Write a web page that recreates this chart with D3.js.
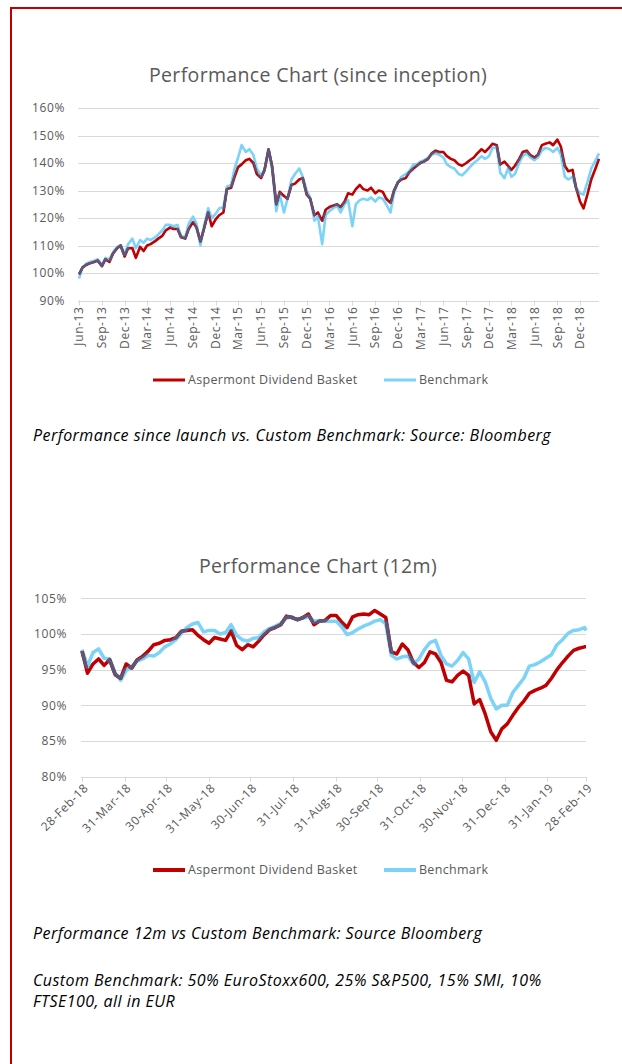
<!DOCTYPE html>
<meta charset="utf-8">
<style>
    body {
        margin: 0;
        background: #fff;
    }

    text {
        font-family: "Open Sans", Lato, sans-serif;
    }

    .axis-label {
        fill: #595959;
        font-size: 12px;
        letter-spacing: 0.6px;
    }

    .title {
        fill: #595959;
        font-size: 19.5px;
        letter-spacing: 0.35px;
    }

    .legend {
        fill: #595959;
        font-size: 12.5px;
        letter-spacing: 0.3px;
    }

    .caption {
        fill: #000;
        font-size: 16px;
        font-style: italic;
        letter-spacing: 0.45px;
    }
</style>

<body>
    <script src="https://d3js.org/d3.v7.min.js"></script>

    <svg width="622" height="1064"></svg>
    <script>
        // ---- since inception (half-monthly readings) ----
        var topDates = [
            "2013-06-01", "2013-06-15", "2013-07-01", "2013-07-15", "2013-08-01", "2013-08-15", "2013-09-01", "2013-09-15", "2013-10-01", "2013-10-15", "2013-11-01", "2013-11-15", "2013-12-01", "2013-12-15",
            "2014-01-01", "2014-01-15", "2014-02-01", "2014-02-15", "2014-03-01", "2014-03-15", "2014-04-01", "2014-04-15", "2014-05-01", "2014-05-15", "2014-06-01", "2014-06-15", "2014-07-01", "2014-07-15", "2014-08-01", "2014-08-15", "2014-09-01", "2014-09-15", "2014-10-01", "2014-10-15", "2014-11-01", "2014-11-15", "2014-12-01", "2014-12-15",
            "2015-01-01", "2015-01-15", "2015-02-01", "2015-02-15", "2015-03-01", "2015-03-15", "2015-04-01", "2015-04-15", "2015-05-01", "2015-05-15", "2015-06-01", "2015-06-15", "2015-07-01", "2015-07-15", "2015-08-01", "2015-08-15", "2015-09-01", "2015-09-15", "2015-10-01", "2015-10-15", "2015-11-01", "2015-11-15", "2015-12-01", "2015-12-15",
            "2016-01-01", "2016-01-15", "2016-02-01", "2016-02-15", "2016-03-01", "2016-03-15", "2016-04-01", "2016-04-15", "2016-05-01", "2016-05-15", "2016-06-01", "2016-06-15", "2016-07-01", "2016-07-15", "2016-08-01", "2016-08-15", "2016-09-01", "2016-09-15", "2016-10-01", "2016-10-15", "2016-11-01", "2016-11-15", "2016-12-01", "2016-12-15",
            "2017-01-01", "2017-01-15", "2017-02-01", "2017-02-15", "2017-03-01", "2017-03-15", "2017-04-01", "2017-04-15", "2017-05-01", "2017-05-15", "2017-06-01", "2017-06-15", "2017-07-01", "2017-07-15", "2017-08-01", "2017-08-15", "2017-09-01", "2017-09-15", "2017-10-01", "2017-10-15", "2017-11-01", "2017-11-15", "2017-12-01", "2017-12-15",
            "2018-01-01", "2018-01-15", "2018-02-01", "2018-02-15", "2018-03-01", "2018-03-15", "2018-04-01", "2018-04-15", "2018-05-01", "2018-05-15", "2018-06-01", "2018-06-15", "2018-07-01", "2018-07-15", "2018-08-01", "2018-08-15", "2018-09-01", "2018-09-15", "2018-10-01", "2018-10-15", "2018-11-01", "2018-11-15", "2018-12-01", "2018-12-15",
            "2019-01-01", "2019-01-15", "2019-02-01", "2019-02-15"
        ];

        var fundTop = [
            99.5, 102, 103, 103.5, 104, 104.5, 102.5, 105, 104, 107, 109, 110, 106, 109,
            109, 105.5, 109.5, 108, 110, 110.5, 111.5, 112.5, 113.5, 115.5, 116.5, 116, 116, 113, 112.5, 116, 118.5, 116.5, 111.5, 116, 122, 117, 119.5, 121,
            122, 130.5, 131, 135, 138.5, 139.5, 141, 141.5, 140, 136, 134.5, 137.5, 145, 139, 125, 129.5, 128, 127, 132, 132.5, 134, 134.5, 128.5, 127,
            121, 122, 119, 123, 124, 124.5, 125, 124, 126, 129, 128.5, 130.5, 132, 130.5, 130, 131, 129, 130, 129.5, 127, 125.5, 130, 133, 134,
            134.5, 136.5, 138, 139, 140, 140.5, 141.5, 143.5, 144.5, 144, 144, 142.5, 141.5, 141, 139.5, 139, 140, 141, 142, 143.5, 145, 144, 145.5, 147,
            146.5, 139.5, 140.5, 139, 137.5, 139, 141.5, 144, 144.5, 143, 142, 143, 146.5, 147, 147.5, 146.5, 148.5, 146, 139, 137, 137.5, 131, 126, 123.5,
            129, 134, 138, 141.5
        ];

        var benchTop = [
            98, 102, 103.5, 104, 104.5, 105, 103, 105.5, 105, 107.5, 109.5, 110, 107, 110.5,
            112.5, 109, 112, 111, 112.5, 112, 113, 114, 115.5, 117.5, 117.5, 117, 117.5, 113.5, 113, 118, 120.5, 118, 110, 117, 123.5, 120, 121.5, 123.5,
            124, 131.5, 132, 138, 142, 146.5, 144, 145, 143, 138, 135.5, 137.5, 144.5, 138, 122.5, 128.5, 122, 127, 134, 136, 138, 135, 130, 127.5,
            119, 120.5, 110.5, 121, 122.5, 123.5, 124.5, 122, 125, 126.5, 117, 125, 126.5, 127, 126.5, 127.5, 126, 127.5, 127, 125, 122, 129, 133, 135,
            136, 137, 139.5, 139.5, 140.5, 141, 142, 143, 143.5, 143, 142, 139.5, 138.5, 138, 136, 135.5, 137, 138.5, 140, 141, 142.5, 141.5, 142.5, 145.5,
            145.5, 136.5, 134.5, 138, 135, 136, 140, 142.5, 143.5, 142, 141, 142, 144.5, 145.5, 145, 144, 145.5, 143, 135, 134, 135, 131, 129, 128.5,
            133.5, 138, 141, 143.5
        ];

        var topTicks = ["Jun-13", "Sep-13", "Dec-13", "Mar-14", "Jun-14", "Sep-14", "Dec-14", "Mar-15", "Jun-15", "Sep-15", "Dec-15", "Mar-16",
            "Jun-16", "Sep-16", "Dec-16", "Mar-17", "Jun-17", "Sep-17", "Dec-17", "Mar-18", "Jun-18", "Sep-18", "Dec-18"];
        var topYTicks = [90, 100, 110, 120, 130, 140, 150, 160];

        // ---- 12 months (4-day readings) ----
        var dates12 = [
            "2018-02-28", "2018-03-04", "2018-03-08", "2018-03-12", "2018-03-16", "2018-03-20", "2018-03-24", "2018-03-28",
            "2018-04-01", "2018-04-05", "2018-04-09", "2018-04-13", "2018-04-17", "2018-04-21", "2018-04-25", "2018-04-29",
            "2018-05-03", "2018-05-07", "2018-05-11", "2018-05-15", "2018-05-19", "2018-05-23", "2018-05-27", "2018-05-31",
            "2018-06-04", "2018-06-08", "2018-06-12", "2018-06-16", "2018-06-20", "2018-06-24", "2018-06-28",
            "2018-07-02", "2018-07-06", "2018-07-10", "2018-07-14", "2018-07-18", "2018-07-22", "2018-07-26", "2018-07-30",
            "2018-08-03", "2018-08-07", "2018-08-11", "2018-08-15", "2018-08-19", "2018-08-23", "2018-08-27", "2018-08-31",
            "2018-09-04", "2018-09-08", "2018-09-12", "2018-09-16", "2018-09-20", "2018-09-24", "2018-09-28",
            "2018-10-02", "2018-10-06", "2018-10-10", "2018-10-14", "2018-10-18", "2018-10-22", "2018-10-26", "2018-10-30",
            "2018-11-03", "2018-11-07", "2018-11-11", "2018-11-15", "2018-11-19", "2018-11-23", "2018-11-27",
            "2018-12-01", "2018-12-05", "2018-12-09", "2018-12-13", "2018-12-17", "2018-12-21", "2018-12-25", "2018-12-29",
            "2019-01-02", "2019-01-06", "2019-01-10", "2019-01-14", "2019-01-18", "2019-01-22", "2019-01-26", "2019-01-30",
            "2019-02-03", "2019-02-07", "2019-02-11", "2019-02-15", "2019-02-19", "2019-02-23", "2019-02-27", "2019-02-28"
        ];

        var fund12 = [
            97.6, 94.5, 95.8, 96.5, 95.6, 96.4, 94.3, 93.8,
            95.8, 95.2, 96.4, 96.9, 97.6, 98.5, 98.7, 99.1,
            99.2, 99.5, 100.4, 100.5, 100.6, 99.8, 99.2, 98.7,
            99.5, 99.3, 99.1, 100.4, 98.4, 97.8, 98.5,
            98.2, 99, 99.9, 100.6, 100.9, 101.3, 102.5, 102.3,
            102, 102.3, 102.8, 101.3, 101.8, 101.9, 102.6, 102.6,
            101.7, 100.9, 102.4, 102.7, 102.8, 102.7, 103.3,
            102.8, 102.3, 97.5, 97.2, 98.6, 97.8, 96, 95.3,
            96, 97.5, 97.2, 96, 93.5, 93.3, 94.2,
            94.8, 94.2, 90.2, 90.8, 88.8, 86.3, 85.1, 86.7,
            87.4, 88.6, 89.7, 90.6, 91.7, 92.1, 92.4, 92.8,
            93.8, 95, 96, 96.9, 97.7, 98, 98.2, 98.2
        ];

        var bench12 = [
            97.8, 95.5, 97.4, 97.9, 96.6, 96.5, 94.6, 93.5,
            94.9, 95.4, 96.2, 96.5, 97, 96.9, 97.4, 98.2,
            98.6, 99.2, 100.1, 100.9, 101.4, 101.6, 100.3, 100.5,
            100.5, 100, 100.2, 101.3, 99.8, 99.2, 99,
            99.4, 99.5, 100.3, 100.8, 101.1, 101.5, 102.2, 102.4,
            102, 102.2, 102.4, 101.8, 101.9, 101.8, 101.8, 101.8,
            101, 99.9, 100.2, 100.7, 101.1, 101.4, 101.8,
            102, 101.4, 97, 96.5, 96.8, 96.9, 95.8, 96.5,
            97.8, 98.8, 99.1, 97, 95.8, 95.5, 96.3,
            97.4, 96.5, 93.2, 94.7, 93.3, 91, 89.5, 90,
            90, 91.8, 92.8, 93.8, 95.5, 95.7, 96.1, 96.6,
            97.1, 98.5, 99.2, 100.1, 100.5, 100.6, 100.9, 100.5
        ];

        var ticks12 = ["28-Feb-18", "31-Mar-18", "30-Apr-18", "31-May-18", "30-Jun-18", "31-Jul-18", "31-Aug-18",
            "30-Sep-18", "31-Oct-18", "30-Nov-18", "31-Dec-18", "31-Jan-19", "28-Feb-19"];
        var yTicks12 = [80, 85, 90, 95, 100, 105];

        var fundName = "Aspermont Dividend Basket",
            benchName = "Benchmark";

        var red = "#c00000",
            blue = "#7dd3f7",
            overlap = "#5d5679",
            grid = "#d9d9d9";

        var svg = d3.select("svg");
        var defs = svg.append("defs");
        var parseDay = d3.timeParse("%Y-%m-%d");

        // red frame, right and bottom edge run off the page
        svg.append("rect")
            .attr("x", 11).attr("y", 8)
            .attr("width", 700).attr("height", 1200)
            .attr("fill", "none")
            .attr("stroke", red)
            .attr("stroke-width", 2);

        function drawChart(c) {
            var x = d3.scaleTime().domain(c.xDomain).range([c.left, c.right]),
                y = d3.scaleLinear().domain(c.yDomain).range([c.bottom, c.top]);

            var g = svg.append("g");

            // gridlines (the lowest one is the axis line)
            g.selectAll(".grid")
                .data(c.yTicks)
                .enter().append("line")
                .attr("x1", c.left - 1).attr("x2", c.right)
                .attr("y1", d => Math.round(y(d)) + 0.5)
                .attr("y2", d => Math.round(y(d)) + 0.5)
                .attr("stroke", grid)
                .attr("stroke-width", 1);

            g.selectAll(".ylab")
                .data(c.yTicks)
                .enter().append("text")
                .attr("class", "axis-label")
                .attr("x", c.yLabelX)
                .attr("y", d => y(d))
                .attr("dy", "0.35em")
                .attr("text-anchor", "end")
                .text(d => d + "%");

            var tickDates = c.xTicks.map(c.tickParse);

            g.selectAll(".xtick")
                .data(tickDates)
                .enter().append("line")
                .attr("x1", d => Math.round(x(d)) + 0.5)
                .attr("x2", d => Math.round(x(d)) + 0.5)
                .attr("y1", c.bottom)
                .attr("y2", c.bottom + 5)
                .attr("stroke", grid);

            g.selectAll(".xlab")
                .data(tickDates)
                .enter().append("text")
                .attr("class", "axis-label")
                .attr("text-anchor", "end")
                .attr("dy", "0.35em")
                .attr("transform", d => "translate(" + (x(d) + c.labelDx) + "," + (c.bottom + c.labelDy) + ")rotate(" + c.labelAngle + ")")
                .text((d, i) => c.xTicks[i]);

            var pts = c.dates.map(parseDay);
            var fundLine = d3.line().x((d, i) => x(pts[i])).y(d => y(d))(c.fund);
            var benchLine = d3.line().x((d, i) => x(pts[i])).y(d => y(d))(c.bench);

            // where the two lines sit on each other the picture shows a dark blend
            var mask = defs.append("mask")
                .attr("id", "ov-" + c.id)
                .attr("maskUnits", "userSpaceOnUse")
                .attr("x", 0).attr("y", 0).attr("width", 622).attr("height", 1064);
            mask.append("rect").attr("width", 622).attr("height", 1064).attr("fill", "#000");
            mask.append("path").attr("d", benchLine).attr("fill", "none")
                .attr("stroke", "#fff").attr("stroke-width", c.lw + 2).attr("stroke-linejoin", "round");

            g.append("path").attr("d", benchLine).attr("fill", "none")
                .attr("stroke", blue).attr("stroke-width", c.lw).attr("stroke-linejoin", "round");
            g.append("path").attr("d", fundLine).attr("fill", "none")
                .attr("stroke", red).attr("stroke-width", c.lw).attr("stroke-linejoin", "round");
            g.append("path").attr("d", fundLine).attr("fill", "none")
                .attr("stroke", overlap).attr("stroke-width", c.lw).attr("stroke-linejoin", "round")
                .attr("mask", "url(#ov-" + c.id + ")");

            // title
            g.append("text")
                .attr("class", "title")
                .attr("x", 318)
                .attr("y", c.titleY)
                .attr("text-anchor", "middle")
                .text(c.title);

            // legend
            var lg = g.append("g").attr("transform", "translate(0," + c.legendY + ")");
            lg.append("line").attr("x1", 153).attr("x2", 185).attr("stroke", red).attr("stroke-width", c.legendLw);
            lg.append("text").attr("class", "legend").attr("x", 188).attr("dy", "0.35em").text(fundName);
            lg.append("line").attr("x1", 384).attr("x2", 416).attr("stroke", blue).attr("stroke-width", c.legendLw);
            lg.append("text").attr("class", "legend").attr("x", 419).attr("dy", "0.35em").text(benchName);
        }

        drawChart({
            id: "top",
            dates: topDates,
            fund: fundTop,
            bench: benchTop,
            xDomain: [parseDay("2013-06-01"), parseDay("2019-02-15")],
            yDomain: [90, 160],
            left: 79, right: 599, top: 108, bottom: 300.5,
            yTicks: topYTicks,
            yLabelX: 65,
            xTicks: topTicks,
            tickParse: d3.timeParse("%b-%y"),
            labelAngle: -90, labelDx: 0, labelDy: 6,
            lw: 2.6,
            legendLw: 3,
            title: "Performance Chart (since inception)",
            titleY: 82,
            legendY: 380
        });

        drawChart({
            id: "m12",
            dates: dates12,
            fund: fund12,
            bench: bench12,
            xDomain: [parseDay("2018-02-28"), parseDay("2019-02-28")],
            yDomain: [80, 105],
            left: 82, right: 586, top: 598.3, bottom: 776.7,
            yTicks: yTicks12,
            yLabelX: 67,
            xTicks: ticks12,
            tickParse: d3.timeParse("%d-%b-%y"),
            labelAngle: -45, labelDx: 4, labelDy: 9,
            lw: 3.5,
            legendLw: 4,
            title: "Performance Chart (12m)",
            titleY: 573,
            legendY: 870
        });

        // captions
        var captions = [
            { y: 441, t: "Performance since launch vs. Custom Benchmark: Source: Bloomberg" },
            { y: 939, t: "Performance 12m vs Custom Benchmark: Source Bloomberg" },
            { y: 986, t: "Custom Benchmark: 50% EuroStoxx600, 25% S&P500, 15% SMI, 10%" },
            { y: 1007, t: "FTSE100, all in EUR" }
        ];
        svg.selectAll(".caption")
            .data(captions)
            .enter().append("text")
            .attr("class", "caption")
            .attr("x", 33)
            .attr("y", d => d.y)
            .text(d => d.t);
    </script>
</body>
